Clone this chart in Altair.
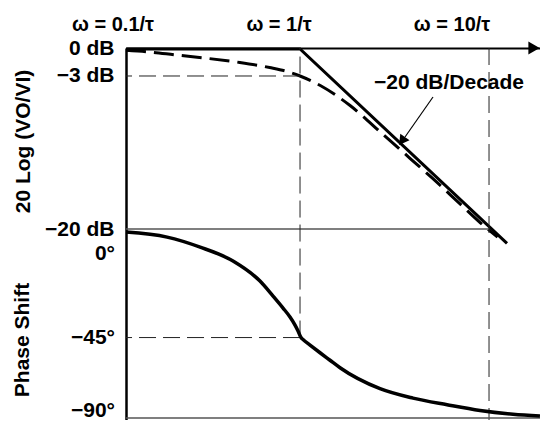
import altair as alt
import pandas as pd

# ---------------- data ----------------
# magnitude, real response (dashed)
mag_omega = [0.12, 0.16, 0.22, 0.32, 0.48, 0.69, 0.88, 1.0, 1.28, 1.84, 2.75, 3.83, 5.0, 7.05, 9.0, 11.1]
mag_db = [-0.14, -0.33, -0.66, -1.03, -1.5, -2.06, -2.58, -3.0, -4.06, -6.28, -9.5, -12.17, -14.33, -17.24, -19.31, -20.9]
# magnitude, asymptote (solid)
asym_omega = [0.12, 1.0, 12.45]
asym_db = [0.0, 0.0, -21.6]
# phase shift
phase_omega = [0.12, 0.198, 0.296, 0.442, 0.614, 0.72, 0.813, 0.885, 0.941, 0.976, 1.012,
               1.037, 1.13, 1.276, 1.441, 1.628, 2.65, 3.96, 6.0, 8.96, 13.4, 18.6]
phase_deg = [14.0, 11.2, 5.6, -2.2, -13.4, -21.8, -28.5, -33.5, -38.0, -41.3, -45.0,
             -46.1, -49.2, -53.5, -57.7, -61.9, -73.6, -78.9, -82.6, -85.8, -87.9, -88.9]

mag_ticks = [0, -3, -20]
mag_tick_labels = ["0 dB", "\u22123 dB", "\u221220 dB"]
phase_ticks = [0, -45, -90]
phase_tick_labels = ["0\u00b0", "\u221245\u00b0", "\u221290\u00b0"]
freq_marks = [0.1, 1, 10]
freq_labels = ["\u03c9 = 0.1/\u03c4", "\u03c9 = 1/\u03c4", "\u03c9 = 10/\u03c4"]
slope_label = "\u221220 dB/Decade"
mag_title = "20 Log (VO/VI)"
phase_title = "Phase Shift"

# ---------------- layout / style ----------------
W, H = 414, 372
FONT = "Liberation Sans"
FS = 21
FS_TOP = 20
label_dx = [2, -21, -37]
phase_label_dy = [-3, 0, -7]

xs = alt.Scale(type="log", domain=[0.12, 18.61], nice=False)
mag_s = alt.Scale(domain=[-41.222, 0.111], nice=False, zero=False)
ph_s = alt.Scale(domain=[-91.125, 117.0], nice=False, zero=False)
x_axis = alt.Axis(orient="top", labels=False, ticks=False, grid=False, domain=True,
                  domainColor="black", domainWidth=2, title=None)


def X(f):
    return alt.X(f"{f}:Q", scale=xs, axis=x_axis)


def Ymag(f):
    return alt.Y(f"{f}:Q", scale=mag_s, axis=None)


def Yph(f):
    return alt.Y(f"{f}:Q", scale=ph_s, axis=None)


one = pd.DataFrame({"a": [0]})

expr = "".join(f"datum.value == {v} ? '{l}' : " for v, l in zip(mag_ticks, mag_tick_labels)) + "''"
mag_axis = alt.Axis(values=mag_ticks, labelExpr=expr, ticks=False, grid=False, domain=True,
                    domainColor="black", domainWidth=2.5, labelPadding=12, labelFont=FONT,
                    labelFontSize=FS, labelFontWeight="bold", labelColor="black",
                    labelBaseline="middle",
                    title=mag_title, titleFont=FONT, titleFontSize=FS, titleFontWeight="bold",
                    titleColor="black", titleX=-103, titleY=93, titleAngle=270,
                    titleAlign="center", titleBaseline="middle")

asym_df = pd.DataFrame({"w": asym_omega, "db": asym_db})
mag_df = pd.DataFrame({"w": mag_omega, "db": mag_db})
ph_df = pd.DataFrame({"w": phase_omega, "ph": phase_deg})

layers = []
layers.append(alt.Chart(asym_df).mark_line(color="black", strokeWidth=3).encode(
    x=X("w"), y=alt.Y("db:Q", scale=mag_s, axis=mag_axis)))
layers.append(alt.Chart(mag_df).mark_line(color="black", strokeWidth=3, strokeDash=[20, 8],
                                          interpolate="monotone").encode(
    x=X("w"), y=Ymag("db")))
# guides
layers.append(alt.Chart(pd.DataFrame({"w": [1], "db": [-3]})).mark_rule(
    color="#222", strokeWidth=1, strokeDash=[17, 7]).encode(x=X("w"), x2=alt.value(0), y=Ymag("db")))
layers.append(alt.Chart(pd.DataFrame({"w": [10], "db": [-20]})).mark_rule(
    color="#555", strokeWidth=1.5).encode(x=X("w"), x2=alt.value(0), y=Ymag("db")))
layers.append(alt.Chart(pd.DataFrame({"w": [1], "ph": [-45]})).mark_rule(
    color="#222", strokeWidth=1, strokeDash=[17, 7]).encode(x=X("w"), y=Yph("ph"), y2=alt.value(0)))
layers.append(alt.Chart(pd.DataFrame({"w": [10]})).mark_rule(
    color="#222", strokeWidth=1, strokeDash=[17, 7]).encode(x=X("w"), y=alt.value(0), y2=alt.value(H)))
layers.append(alt.Chart(pd.DataFrame({"w": [1], "ph": [-45]})).mark_rule(
    color="#222", strokeWidth=1, strokeDash=[17, 7]).encode(x=X("w"), x2=alt.value(0), y=Yph("ph")))
layers.append(alt.Chart(pd.DataFrame({"ph": [-90]})).mark_rule(
    color="#555", strokeWidth=1.5).encode(x=alt.value(0), x2=alt.value(W), y=Yph("ph")))
# phase curve
layers.append(alt.Chart(ph_df).mark_line(color="black", strokeWidth=3.5, interpolate="monotone").encode(
    x=X("w"), y=Yph("ph")))
# phase tick labels
for v, t, d in zip(phase_ticks, phase_tick_labels, phase_label_dy):
    layers.append(alt.Chart(pd.DataFrame({"ph": [v], "t": [t]})).mark_text(
        font=FONT, fontSize=FS, fontWeight="bold", align="right", baseline="middle",
        color="black", dy=d).encode(x=alt.value(-11), y=Yph("ph"), text="t:N"))
layers.append(alt.Chart(one).mark_text(
    text=phase_title, font=FONT, fontSize=FS, fontWeight="bold", angle=270,
    align="center", baseline="middle", color="black").encode(x=alt.value(-103), y=alt.value(292)))
# frequency labels
for f, t, d in zip(freq_marks, freq_labels, label_dx):
    layers.append(alt.Chart(pd.DataFrame({"w": [f], "t": [t]})).mark_text(
        font=FONT, fontSize=FS_TOP, fontWeight="bold", align="center", baseline="middle",
        color="black", dx=d).encode(x=X("w"), y=alt.value(-23), text="t:N"))
# axis arrowhead
layers.append(alt.Chart(one).mark_point(shape="triangle-right", filled=True, size=170,
                                         color="black", opacity=1).encode(
    x=alt.value(W - 6), y=alt.value(0)))
# slope annotation
layers.append(alt.Chart(one).mark_text(text=slope_label, font=FONT, fontSize=FS, fontWeight="bold",
                                        align="center", baseline="middle", color="black").encode(
    x=alt.value(323), y=alt.value(34.5)))
layers.append(alt.Chart(one).mark_rule(color="black", strokeWidth=1.2).encode(
    x=alt.value(307), y=alt.value(49), x2=alt.value(279), y2=alt.value(89)))
layers.append(alt.Chart(one).mark_point(shape="triangle-up", angle=216, filled=True, size=130,
                                         color="black", opacity=1).encode(
    x=alt.value(276), y=alt.value(93)))

chart = alt.layer(*layers).resolve_scale(y="independent").properties(
    width=W, height=H,
    autosize=alt.AutoSizeParams(type="none"),
    padding={"left": 118, "top": 40, "right": 0, "bottom": 0},
).configure_view(stroke=None)

chart.save("out.html", embed_options={"renderer": "svg", "actions": False})
